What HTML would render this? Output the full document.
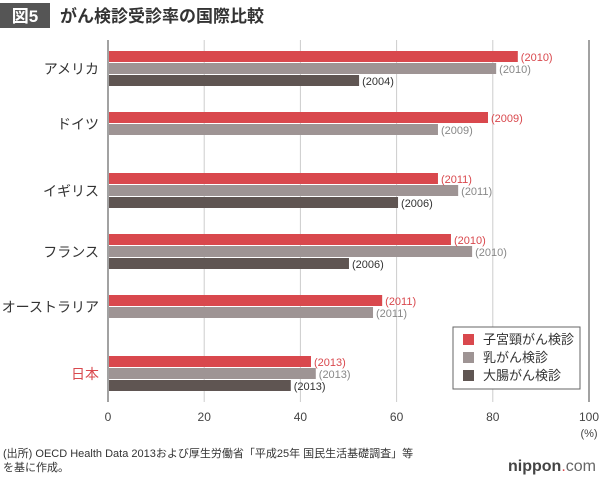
<!DOCTYPE html>
<html><head><meta charset="utf-8">
<style>
body{margin:0;background:#fff;font-family:"Liberation Sans","Noto Sans CJK JP",sans-serif;}
#wrap{position:relative;width:600px;height:480px;overflow:hidden;}
</style></head>
<body><div id="wrap">
<svg id="chart" width="600" height="480" style="position:absolute;left:0;top:0">
<rect x="0" y="3" width="50" height="25" fill="#555"/>
<text x="25" y="22" fill="#fff" font-size="17" font-weight="bold" text-anchor="middle">図5</text>
<text x="60" y="22" fill="#333" font-size="17" font-weight="bold">がん検診受診率の国際比較</text>
<g id="grid"></g><g id="bars"></g><g id="labels"></g>
<g>
<rect x="453" y="327" width="127" height="62" fill="#fff" stroke="#666" stroke-width="1"/>
<rect x="463" y="334" width="11" height="11" fill="#d9484d"/>
<text x="483" y="344" font-size="13" fill="#333">子宮頸がん検診</text>
<rect x="463" y="352" width="11" height="11" fill="#9e9494"/>
<text x="483" y="362" font-size="13" fill="#333">乳がん検診</text>
<rect x="463" y="370" width="11" height="11" fill="#5f5552"/>
<text x="483" y="380" font-size="13" fill="#333">大腸がん検診</text>
</g>
<text x="589" y="437" font-size="11" fill="#444" text-anchor="middle">(%)</text>
<text x="3" y="457" font-size="11" fill="#333">(出所) OECD Health Data 2013および厚生労働省「平成25年 国民生活基礎調査」等</text>
<text x="3" y="471" font-size="11" fill="#333">を基に作成。</text>
<text x="596" y="471" font-size="16" text-anchor="end"><tspan fill="#444" font-weight="bold">nippon</tspan><tspan fill="#d9484d">.</tspan><tspan fill="#666">com</tspan></text>
</svg>
<script>
const countries=["アメリカ","ドイツ","イギリス","フランス","オーストラリア","日本"];
const cervical=[85.2,79,68.6,71.3,57,42.2];
const breast=[80.7,68.6,72.8,75.7,55.1,43.2];
const colorectal=[52.2,null,60.3,50.1,null,38];
const cervicalYears=["2010","2009","2011","2010","2011","2013"];
const breastYears=["2010","2009","2011","2010","2011","2013"];
const colorectalYears=["2004","","2006","2006","","2013"];
const ticks=[0,20,40,60,80,100];
const NS="http://www.w3.org/2000/svg";
const x=v=>108+v*4.81;
const gy=i=>51+i*61;
function mk(tag,attrs,parent){const e=document.createElementNS(NS,tag);for(const k in attrs)e.setAttribute(k,attrs[k]);parent.appendChild(e);return e;}
const grid=document.getElementById('grid'),bars=document.getElementById('bars'),labels=document.getElementById('labels');
ticks.forEach(t=>{
 const l=mk('line',{x1:x(t),x2:x(t),y1:40,y2:402,stroke:t===0||t===100?'#444':'#ccc','stroke-width':1},grid);
 
 
 const tx=mk('text',{x:x(t),y:421,'font-size':12,fill:'#444','text-anchor':'middle'},grid);
 tx.textContent=t;
 
 
});
const series=[[cervical,cervicalYears,'#d9484d','#d9484d','cervical'],[breast,breastYears,'#9e9494','#888','breast'],[colorectal,colorectalYears,'#5f5552','#333','colorectal']];
countries.forEach((c,i)=>{
 const yl=mk('text',{x:99,y:gy(i)+(colorectal[i]==null?12:18)+5,'font-size':14,fill:c==='日本'?'#d9484d':'#333','text-anchor':'end'},labels);
 yl.textContent=c;
 
 
 series.forEach((s,j)=>{
  const v=s[0][i]; if(v==null)return;
  const b=mk('rect',{x:x(0)+1,y:gy(i)+j*12,width:x(v)-x(0)-1,height:11,fill:s[2]},bars);
  
  
  const t=mk('text',{x:x(v)+3,y:gy(i)+j*12+10,'font-size':11,fill:s[3]},labels);
  t.textContent='('+s[1][i]+')';
  
  
 });
});
</script>
</div></body></html>
